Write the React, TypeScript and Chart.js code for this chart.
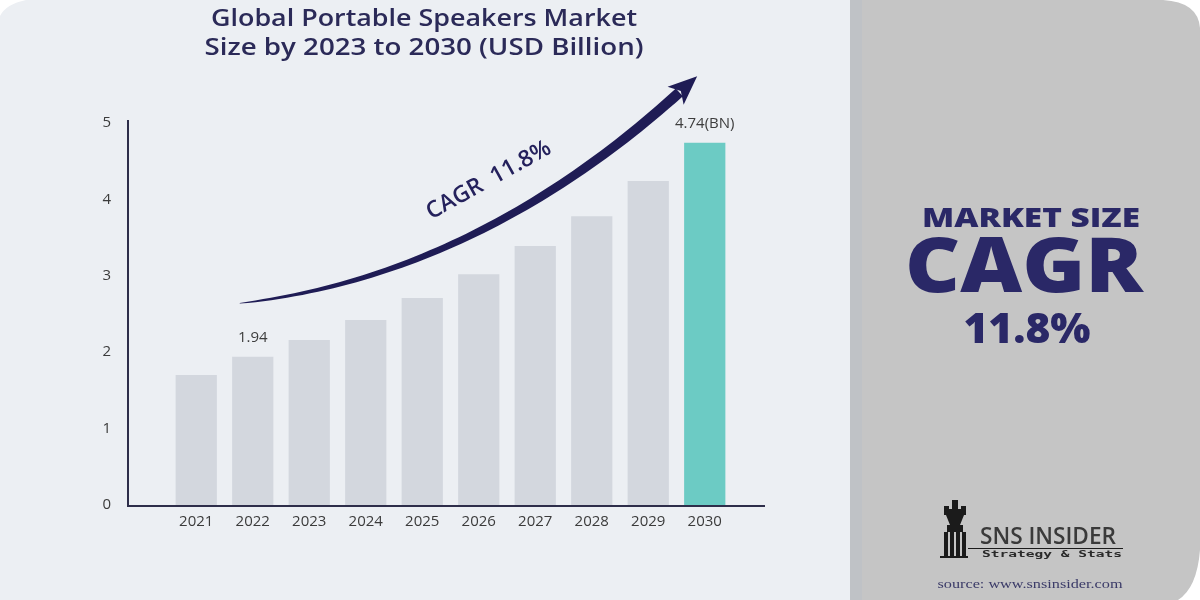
import React, { useEffect, useRef } from "react";
import { Chart, registerables } from "chart.js";

Chart.register(...registerables);

// ---- data ----
const years = ["2021", "2022", "2023", "2024", "2025", "2026", "2027", "2028", "2029", "2030"];
const marketSize = [1.7, 1.94, 2.16, 2.42, 2.71, 3.02, 3.39, 3.78, 4.24, 4.74];
const valueLabels = ["", "1.94", "", "", "", "", "", "", "", "4.74(BN)"];
const highlightYear = "2030";
const yTickValues = [0, 1, 2, 3, 4, 5];
const titleLines = ["Global Portable Speakers Market", "Size by 2023 to 2030 (USD Billion)"];
const arrowText = "CAGR  11.8%";
const panelLines = ["MARKET SIZE", "CAGR", "11.8%"];
const brandName = "SNS INSIDER";
const brandTag = "Strategy & Stats";
const sourceText = "source: www.snsinsider.com";

const GRAY = "#d3d7de";
const TEAL = "#6ccbc4";
const BG = "#eceff3";

function fitText(ctx: CanvasRenderingContext2D, text: string, x: number, y: number, font: string, width: number, color: string, align: "center" | "left" = "center") {
  ctx.save();
  ctx.font = font;
  ctx.fillStyle = color;
  ctx.textBaseline = "alphabetic";
  const w = ctx.measureText(text).width;
  const sx = width / w;
  ctx.translate(x, y);
  ctx.scale(sx, 1);
  ctx.textAlign = align;
  ctx.fillText(text, 0, 0);
  ctx.restore();
}

const decorPlugin = {
  id: "decor",
  beforeDraw(chart: any) {
    const ctx: CanvasRenderingContext2D = chart.ctx;
    const W = chart.width, H = chart.height;
    ctx.save();
    ctx.fillStyle = BG;
    ctx.fillRect(0, 0, W, H);
    ctx.fillStyle = "#ffffff";
    ctx.beginPath();
    ctx.moveTo(0, 16);
    ctx.quadraticCurveTo(6, 4, 26, 0);
    ctx.lineTo(0, 0);
    ctx.closePath();
    ctx.fill();
    // right panel
    ctx.fillStyle = "#bfc2c6";
    ctx.fillRect(850, 0, W - 850, H);
    ctx.fillStyle = "#c5c5c5";
    ctx.fillRect(862, 0, W - 862, H);
    ctx.fillStyle = "#ffffff";
    ctx.beginPath();
    ctx.moveTo(1163, 0);
    ctx.quadraticCurveTo(1198, 2, 1200, 28);
    ctx.lineTo(1200, 0);
    ctx.closePath();
    ctx.fill();
    ctx.beginPath();
    ctx.moveTo(1200, 550);
    ctx.quadraticCurveTo(1197, 588, 1178, 600);
    ctx.lineTo(1200, 600);
    ctx.closePath();
    ctx.fill();
    ctx.restore();

    // title
    fitText(ctx, titleLines[0], 424, 26, "600 24px 'Open Sans'", 426, "#2b2a58");
    fitText(ctx, titleLines[1], 424, 55, "600 24px 'Open Sans'", 439, "#2b2a58");

    // right panel text
    fitText(ctx, panelLines[0], 1031, 227, "800 27px 'Open Sans'", 218, "#2a2867");
    fitText(ctx, panelLines[1], 1024, 292, "800 76px 'Open Sans'", 238, "#2a2867");
    fitText(ctx, panelLines[2], 1027, 343, "800 42px 'Open Sans'", 127, "#2a2867");

    // logo
    ctx.save();
    ctx.fillStyle = "#1b1b1b";
    ctx.fillRect(952, 500, 6, 6);
    ctx.fillRect(944, 506, 22, 9);
    ctx.fillStyle = "#c5c5c5";
    ctx.fillRect(949, 506, 3, 3);
    ctx.fillRect(958, 506, 3, 3);
    ctx.fillStyle = "#1b1b1b";
    ctx.beginPath();
    ctx.moveTo(946, 515);
    ctx.lineTo(964, 515);
    ctx.lineTo(960, 525);
    ctx.lineTo(950, 525);
    ctx.closePath();
    ctx.fill();
    ctx.fillRect(947, 525, 16, 7);
    ctx.fillRect(944, 532, 4, 24);
    ctx.fillRect(950, 532, 4, 24);
    ctx.fillRect(956, 532, 4, 24);
    ctx.fillRect(962, 532, 4, 24);
    ctx.fillRect(940, 556, 28, 2);
    ctx.fillRect(968, 548, 155, 1);
    ctx.restore();
    fitText(ctx, brandName, 980, 544, "600 24px 'Open Sans'", 136, "#3a3a3a", "left");
    fitText(ctx, brandTag, 982, 557, "bold 9px 'DejaVu Sans Mono'", 140, "#2a2a2a", "left");
    fitText(ctx, sourceText, 1030, 588, "13px 'Liberation Serif'", 185, "#3b3b68");
  },
  afterDatasetsDraw(chart: any) {
    const ctx: CanvasRenderingContext2D = chart.ctx;
    const xs = chart.scales.x, ys = chart.scales.y;
    const area = chart.chartArea;
    const step = (area.right - area.left) / years.length;
    const px = (i: number) => area.left + (i + 0.5) * step;

    // axis lines
    ctx.save();
    ctx.strokeStyle = "#2e2e4a";
    ctx.lineWidth = 2;
    ctx.beginPath();
    ctx.moveTo(area.left - 40, ys.getPixelForValue(5.04));
    ctx.lineTo(area.left - 40, ys.getPixelForValue(0) + 1);
    ctx.lineTo(area.right + 32, ys.getPixelForValue(0) + 1);
    ctx.stroke();
    ctx.restore();

    // value labels
    ctx.save();
    ctx.font = "15px 'Open Sans'";
    ctx.fillStyle = "#3d3d3d";
    ctx.textAlign = "center";
    ctx.textBaseline = "alphabetic";
    valueLabels.forEach((lab, i) => {
      if (!lab) return;
      ctx.fillText(lab, xs.getPixelForValue(i), ys.getPixelForValue(marketSize[i]) - 15);
    });
    ctx.restore();

    // curved arrow
    const P0 = { x: px(0.77), y: ys.getPixelForValue(2.64) };
    const C = { x: px(4.95), y: ys.getPixelForValue(3.0) };
    const P2 = { x: px(8.55), y: ys.getPixelForValue(5.4) };
    const bez = (t: number) => ({
      x: (1 - t) * (1 - t) * P0.x + 2 * t * (1 - t) * C.x + t * t * P2.x,
      y: (1 - t) * (1 - t) * P0.y + 2 * t * (1 - t) * C.y + t * t * P2.y,
    });
    const der = (t: number) => ({
      x: 2 * (1 - t) * (C.x - P0.x) + 2 * t * (P2.x - C.x),
      y: 2 * (1 - t) * (C.y - P0.y) + 2 * t * (P2.y - C.y),
    });
    const N = 60;
    const upper: any[] = [], lower: any[] = [];
    for (let k = 0; k <= N; k++) {
      const t = k / N;
      const p = bez(t), d = der(t);
      const len = Math.hypot(d.x, d.y);
      const nx = -d.y / len, ny = d.x / len;
      const w = (0.5 + 10 * Math.pow(t, 0.6)) / 2;
      upper.push({ x: p.x + nx * w, y: p.y + ny * w });
      lower.push({ x: p.x - nx * w, y: p.y - ny * w });
    }
    ctx.save();
    ctx.fillStyle = "#1f1c55";
    ctx.beginPath();
    ctx.moveTo(upper[0].x, upper[0].y);
    upper.forEach((p) => ctx.lineTo(p.x, p.y));
    for (let k = lower.length - 1; k >= 0; k--) ctx.lineTo(lower[k].x, lower[k].y);
    ctx.closePath();
    ctx.fill();
    const d = der(1);
    const len = Math.hypot(d.x, d.y);
    const ux = d.x / len, uy = d.y / len;
    const nx = -uy, ny = ux;
    const tip = { x: P2.x + ux * 24, y: P2.y + uy * 24 };
    ctx.beginPath();
    ctx.moveTo(tip.x, tip.y);
    ctx.lineTo(P2.x + nx * 12 - ux * 5, P2.y + ny * 12 - uy * 5);
    ctx.lineTo(P2.x + ux * 2, P2.y + uy * 2);
    ctx.lineTo(P2.x - nx * 12 - ux * 5, P2.y - ny * 12 - uy * 5);
    ctx.closePath();
    ctx.fill();
    ctx.restore();

    // CAGR text along arrow
    ctx.save();
    ctx.translate(492, 186);
    ctx.rotate((-29 * Math.PI) / 180);
    ctx.font = "600 23px 'Open Sans'";
    ctx.fillStyle = "#24215c";
    ctx.textAlign = "center";
    ctx.textBaseline = "alphabetic";
    ctx.fillText(arrowText, 0, 0);
    ctx.restore();
  },
};

export default function App() {
  const ref = useRef<HTMLCanvasElement | null>(null);
  useEffect(() => {
    if (!ref.current) return;
    const chart = new Chart(ref.current, {
      type: "bar",
      data: {
        labels: years,
        datasets: [
          {
            data: marketSize,
            backgroundColor: years.map((y) => (y === highlightYear ? TEAL : GRAY)),
            borderWidth: 0,
            barPercentage: 0.73,
            categoryPercentage: 1,
          },
        ],
      },
      options: {
        responsive: false,
        animation: false,
        devicePixelRatio: 1,
        layout: { padding: { left: 80, right: 467, top: 123, bottom: 55 } },
        plugins: { legend: { display: false }, tooltip: { enabled: false }, title: { display: false } },
        scales: {
          x: {
            grid: { display: false, drawTicks: false },
            border: { display: false },
            ticks: {
              padding: 8,
              maxRotation: 0,
              autoSkip: false,
              color: "#3b3b3b",
              font: { family: "'Open Sans'", size: 15 },
            },
            afterFit: (s: any) => {
              s.height = 40;
            },
          },
          y: {
            min: 0,
            max: 5,
            grid: { display: false, drawTicks: false },
            border: { display: false },
            afterBuildTicks: (s: any) => {
              s.ticks = yTickValues.map((v) => ({ value: v }));
            },
            ticks: {
              padding: 57,
              color: "#3b3b3b",
              font: { family: "'Open Sans'", size: 15 },
              callback: (v: any) => String(v),
            },
            afterFit: (s: any) => {
              s.width = 88;
            },
          },
        },
      },
      plugins: [decorPlugin],
    });
    return () => chart.destroy();
  }, []);
  return (
    <div style={{ position: "fixed", left: 0, top: 0, width: 1200, height: 600 }}>
      <canvas ref={ref} width={1200} height={600} style={{ width: 1200, height: 600, display: "block" }} />
    </div>
  );
}
